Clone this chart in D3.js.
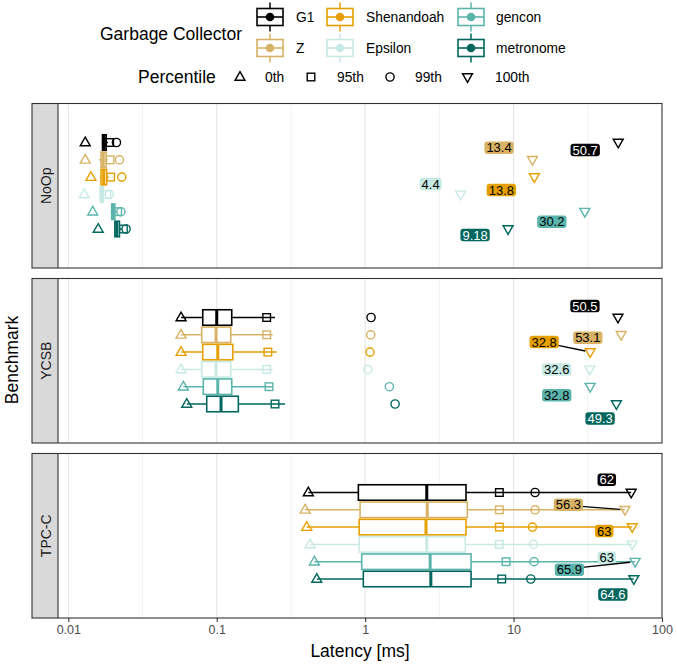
<!DOCTYPE html>
<html>
<head>
<meta charset="utf-8">
<script src="https://cdn.jsdelivr.net/npm/d3@7"></script>
<style>
  html, body { margin: 0; padding: 0; background: #fff; }
  svg { display: block; font-family: "Liberation Sans", Arial, Helvetica, sans-serif; }
</style>
</head>
<body>
<svg id="chart" width="677" height="666"></svg>
<script>
// ---------------- DATA ----------------
const collectors = ["G1", "Z", "Shenandoah", "Epsilon", "gencon", "metronome"];
const collectorColors = ["#000000", "#D8B365", "#E69F00", "#C7EAE5", "#5AB4AC", "#01665E"];
const labelTextColors = ["#FFFFFF", "#000000", "#000000", "#000000", "#000000", "#FFFFFF"];
const benchmarks = ["NoOp", "YCSB", "TPC-C"];
const percentileNames = ["0th", "95th", "99th", "100th"];
const tickValues = [0.01, 0.1, 1, 10, 100];
const tickLabels = ["0.01", "0.1", "1", "10", "100"];

// NoOp
const noopMin     = [0.0130, 0.0130, 0.0142, 0.0128, 0.0146, 0.0159];
const noopWhLo    = [0.0168, 0.0161, 0.0163, 0.0163, 0.0193, 0.0203];
const noopQ1      = [0.0170, 0.0166, 0.0166, 0.0164, 0.0196, 0.0206];
const noopMedian  = [0.0174, 0.0172, 0.0173, 0.0167, 0.0199, 0.0212];
const noopQ3      = [0.0180, 0.0180, 0.0181, 0.0172, 0.0206, 0.0221];
const noopWhHi    = [0.0185, 0.0185, 0.0187, 0.0178, 0.0212, 0.0230];
const noopP95     = [0.0190, 0.0191, 0.0193, 0.0182, 0.0215, 0.0235];
const noopP99     = [0.0211, 0.0221, 0.0229, 0.0189, 0.0226, 0.0245];
const noopMax     = [50.7, 13.4, 13.8, 4.4, 30.2, 9.18];

// YCSB
const ycsbMin     = [0.0575, 0.0575, 0.0575, 0.0575, 0.0596, 0.0628];
const ycsbWhLo    = [0.0575, 0.0575, 0.0575, 0.0575, 0.0596, 0.0628];
const ycsbQ1      = [0.0805, 0.0792, 0.0805, 0.0792, 0.0812, 0.0856];
const ycsbMedian  = [0.1000, 0.0989, 0.1016, 0.0989, 0.1016, 0.1069];
const ycsbQ3      = [0.1262, 0.1243, 0.1282, 0.1243, 0.1262, 0.1398];
const ycsbWhHi    = [0.247, 0.238, 0.254, 0.238, 0.238, 0.289];
const ycsbP95     = [0.217, 0.217, 0.221, 0.217, 0.225, 0.247];
const ycsbP99     = [1.096, 1.090, 1.078, 1.041, 1.456, 1.591];
const ycsbMax     = [50.5, 53.1, 32.8, 32.6, 32.8, 49.3];

// TPC-C
const tpccMin     = [0.414, 0.394, 0.404, 0.425, 0.455, 0.472];
const tpccWhLo    = [0.414, 0.394, 0.404, 0.425, 0.455, 0.472];
const tpccQ1      = [0.900, 0.924, 0.911, 0.911, 0.948, 0.972];
const tpccMedian  = [2.60, 2.62, 2.57, 2.60, 2.74, 2.77];
const tpccQ3      = [4.78, 4.88, 4.78, 4.73, 5.17, 5.17];
const tpccWhHi    = [62, 56.3, 63, 63, 65.9, 64.6];
const tpccP95     = [8.02, 8.02, 8.02, 8.02, 8.90, 8.32];
const tpccP99     = [13.96, 13.96, 13.4, 13.6, 13.74, 13.06];
const tpccMax     = [62, 56.3, 63, 63, 65.9, 64.6];

// label placement (repel result, offsets in px from the 100th-percentile point)
const noopLabelNudge = [[-33, 7.5], [-33.4, -12], [-33, 13], [-30, -10.5], [-33, 10], [-33, 6]];
const ycsbLabelNudge = [[-33, -11.5], [-33.4, 3], [-46, -10], [-33, 0], [-33.4, 8.5], [-16.3, 14.5]];
const tpccLabelNudge = [[-24.4, -12.8], [-56.6, -5], [-28, 4], [-25.4, 13.3], [-65.7, 8], [-21, 15.5]];
const noopLeader = [false, false, false, false, false, false];
const ycsbLeader = [false, false, true, false, false, false];
const tpccLeader = [false, true, false, false, true, false];

const panels = [
  {name: benchmarks[0], min: noopMin, wlo: noopWhLo, q1: noopQ1, med: noopMedian, q3: noopQ3, whi: noopWhHi, p95: noopP95, p99: noopP99, max: noopMax, nudge: noopLabelNudge, leader: noopLeader},
  {name: benchmarks[1], min: ycsbMin, wlo: ycsbWhLo, q1: ycsbQ1, med: ycsbMedian, q3: ycsbQ3, whi: ycsbWhHi, p95: ycsbP95, p99: ycsbP99, max: ycsbMax, nudge: ycsbLabelNudge, leader: ycsbLeader},
  {name: benchmarks[2], min: tpccMin, wlo: tpccWhLo, q1: tpccQ1, med: tpccMedian, q3: tpccQ3, whi: tpccWhHi, p95: tpccP95, p99: tpccP99, max: tpccMax, nudge: tpccLabelNudge, leader: tpccLeader}
];

// ---------------- LAYOUT ----------------
const svg = d3.select("#chart");
const outerLeft = 32, plotLeft = 58, plotRight = 662;
const panelTop0 = 103.5, panelH = 164.5, panelStep = 175;
const rowStep = 17.3, boxH = 15.5;
const border = "#333333";

const x = d3.scaleLog().domain([0.00852, 100]).range([plotLeft, plotRight]);
const colorOf = d3.scaleOrdinal().domain(collectors).range(collectorColors);

function triUp(cx, cy, s) {
  const h = s * 0.866;
  return `M${cx},${cy - h * 0.62}L${cx + s / 2},${cy + h * 0.38}L${cx - s / 2},${cy + h * 0.38}Z`;
}
function triDown(cx, cy, s) {
  const h = s * 0.866;
  return `M${cx},${cy + h * 0.62}L${cx + s / 2},${cy - h * 0.38}L${cx - s / 2},${cy - h * 0.38}Z`;
}
function drawShape(g, kind, cx, cy, color) {
  const sw = 1.4;
  if (kind === 0) g.append("path").attr("d", triUp(cx, cy, 10)).attr("fill", "none").attr("stroke", color).attr("stroke-width", sw);
  else if (kind === 1) g.append("rect").attr("x", cx - 3.8).attr("y", cy - 3.8).attr("width", 7.6).attr("height", 7.6).attr("fill", "none").attr("stroke", color).attr("stroke-width", sw);
  else if (kind === 2) g.append("circle").attr("cx", cx).attr("cy", cy).attr("r", 4.1).attr("fill", "none").attr("stroke", color).attr("stroke-width", sw);
  else g.append("path").attr("d", triDown(cx, cy, 10)).attr("fill", "none").attr("stroke", color).attr("stroke-width", sw);
}

const majors = [0.01, 0.1, 1, 10];
const minors = [Math.pow(10, -1.5), Math.pow(10, -0.5), Math.pow(10, 0.5), Math.pow(10, 1.5)];

panels.forEach((p, pi) => {
  const top = panelTop0 + pi * panelStep;
  const g = svg.append("g");
  const yc = top + panelH / 2;
  const y = d3.scalePoint().domain(collectors).range([yc - 2.5 * rowStep, yc + 2.5 * rowStep]);

  // grid
  g.selectAll(".minor").data(minors).enter().append("line")
    .attr("x1", d => x(d)).attr("x2", d => x(d)).attr("y1", top).attr("y2", top + panelH)
    .attr("stroke", "#EDEDED").attr("stroke-width", 0.8);
  g.selectAll(".major").data(majors).enter().append("line")
    .attr("x1", d => x(d)).attr("x2", d => x(d)).attr("y1", top).attr("y2", top + panelH)
    .attr("stroke", "#E6E6E6").attr("stroke-width", 1.1);

  // strip
  g.append("rect").attr("x", outerLeft).attr("y", top).attr("width", plotLeft - outerLeft).attr("height", panelH)
    .attr("fill", "#D9D9D9");
  g.append("text").attr("transform", `translate(${(outerLeft + plotLeft) / 2 + 0.5},${yc}) rotate(-90)`)
    .attr("text-anchor", "middle").attr("dy", "0.36em").attr("font-size", 14).attr("fill", "#1A1A1A").text(p.name);

  // marks
  collectors.forEach((c, i) => {
    const col = colorOf(c);
    const yy = y(c);
    g.append("line").attr("x1", x(p.wlo[i])).attr("x2", x(p.whi[i])).attr("y1", yy).attr("y2", yy)
      .attr("stroke", col).attr("stroke-width", 1.5);
    g.append("rect").attr("x", x(p.q1[i])).attr("y", yy - boxH / 2).attr("width", x(p.q3[i]) - x(p.q1[i])).attr("height", boxH)
      .attr("fill", "#fff").attr("stroke", col).attr("stroke-width", 1.6);
    g.append("line").attr("x1", x(p.med[i])).attr("x2", x(p.med[i])).attr("y1", yy - boxH / 2).attr("y2", yy + boxH / 2)
      .attr("stroke", col).attr("stroke-width", 3);
    drawShape(g, 0, x(p.min[i]), yy, col);
    drawShape(g, 1, x(p.p95[i]), yy, col);
    drawShape(g, 2, x(p.p99[i]), yy, col);
    drawShape(g, 3, x(p.max[i]), yy, col);
  });

  // labels
  collectors.forEach((c, i) => {
    const px = x(p.max[i]), py = y(c);
    const lx = px + p.nudge[i][0], ly = py + p.nudge[i][1];
    const txt = String(p.max[i]);
    const tmp = g.append("text").attr("font-size", 13).text(txt);
    const w = tmp.node().getComputedTextLength();
    tmp.remove();
    const bw = w + 4, bh = 12.5;
    if (p.leader[i]) {
      const ex = lx + bw / 2, ey = ly + (py - ly) * 0.3;
      const dx = px - ex, dy = py - ey, len = Math.hypot(dx, dy);
      const k = (len - 5) / len;
      g.append("line").attr("x1", ex - 2).attr("y1", ey).attr("x2", ex + dx * k).attr("y2", ey + dy * k)
        .attr("stroke", "#000").attr("stroke-width", 1.3);
    }
    g.append("rect").attr("x", lx - bw / 2).attr("y", ly - bh / 2).attr("width", bw).attr("height", bh)
      .attr("rx", 3).attr("ry", 3).attr("fill", colorOf(c));
    g.append("text").attr("x", lx).attr("y", ly).attr("dy", "0.36em").attr("text-anchor", "middle")
      .attr("font-size", 13).attr("fill", labelTextColors[i]).text(txt);
  });

  // borders
  g.append("rect").attr("x", outerLeft).attr("y", top).attr("width", plotRight - outerLeft).attr("height", panelH)
    .attr("fill", "none").attr("stroke", border).attr("stroke-width", 1.1);
  g.append("line").attr("x1", plotLeft).attr("x2", plotLeft).attr("y1", top).attr("y2", top + panelH)
    .attr("stroke", border).attr("stroke-width", 1.1);
});

// x axis
const axisY = panelTop0 + 2 * panelStep + panelH;
const ax = svg.append("g").attr("transform", `translate(0,${axisY})`)
  .call(d3.axisBottom(x).tickValues(tickValues).tickFormat((d, i) => tickLabels[i]).tickSize(4).tickPadding(3));
ax.select(".domain").remove();
ax.selectAll(".tick line").attr("stroke", border).attr("stroke-width", 1.1);
ax.selectAll(".tick text").attr("font-size", 12.5).attr("fill", "#4D4D4D")
  .attr("font-family", "Liberation Sans, Arial, sans-serif");

svg.append("text").attr("x", (plotLeft + plotRight) / 2).attr("y", 657).attr("text-anchor", "middle")
  .attr("font-size", 17.5).attr("fill", "#000").text("Latency [ms]");
svg.append("text").attr("transform", `translate(12,360) rotate(-90)`).attr("text-anchor", "middle")
  .attr("dy", "0.36em").attr("font-size", 17.5).attr("fill", "#000").text("Benchmark");

// ---------------- LEGEND ----------------
const leg = svg.append("g");
leg.append("text").attr("x", 100).attr("y", 34).attr("dy", "0.36em").attr("font-size", 17.5).text("Garbage Collector");
const keyCols = [270, 340, 471];
const labCols = [296, 366, 496];
const keyRows = [17, 48];
collectors.forEach((c, i) => {
  const col = colorOf(c);
  const cx = keyCols[Math.floor(i / 2)], cy = keyRows[i % 2];
  const kw = 26, kh = 17;
  leg.append("line").attr("x1", cx).attr("x2", cx).attr("y1", cy - kh / 2 - 6).attr("y2", cy + kh / 2 + 6)
    .attr("stroke", col).attr("stroke-width", 1.5);
  leg.append("rect").attr("x", cx - kw / 2).attr("y", cy - kh / 2).attr("width", kw).attr("height", kh)
    .attr("fill", "#fff").attr("stroke", col).attr("stroke-width", 1.6);
  leg.append("line").attr("x1", cx - kw / 2).attr("x2", cx + kw / 2).attr("y1", cy).attr("y2", cy)
    .attr("stroke", col).attr("stroke-width", 1.6);
  leg.append("circle").attr("cx", cx).attr("cy", cy).attr("r", 4.3).attr("fill", col);
  leg.append("text").attr("x", labCols[Math.floor(i / 2)]).attr("y", cy).attr("dy", "0.36em")
    .attr("font-size", 13.8).text(c);
});
leg.append("text").attr("x", 138).attr("y", 77).attr("dy", "0.36em").attr("font-size", 17.5).text("Percentile");
const pctSym = [240, 311, 390, 467.5];
const pctLab = [265, 337, 415, 495];
percentileNames.forEach((n, i) => {
  drawShape(leg, i, pctSym[i], 77, "#000");
  leg.append("text").attr("x", pctLab[i]).attr("y", 77).attr("dy", "0.36em").attr("font-size", 13.8).text(n);
});
</script>
</body>
</html>
